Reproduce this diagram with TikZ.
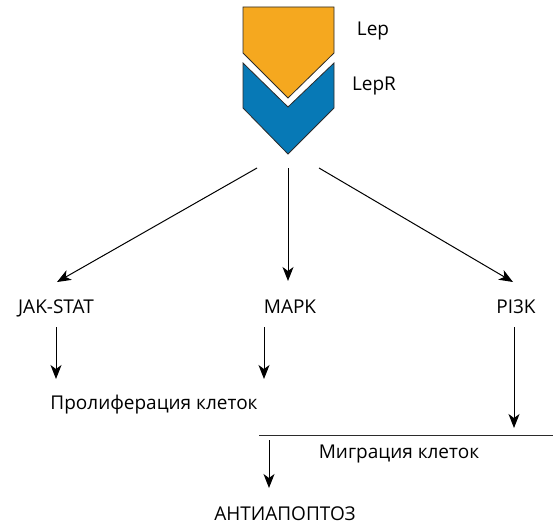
\documentclass[tikz,border=0pt]{standalone}
\usepackage{fontspec}
\setmainfont{Open Sans}
\usetikzlibrary{arrows.meta}
\definecolor{lepyel}{HTML}{F5A81F}
\definecolor{lepblue}{HTML}{0779B6}
\definecolor{edge}{HTML}{2B2B2B}
\tikzset{
  lbl/.style={inner sep=0pt, anchor=base, font=\fontsize{19}{21}\selectfont, text=black},
  arr/.style={draw=black, line width=1pt, -{Stealth[length=14pt,width=11pt,inset=4pt]}},
  shp/.style={draw=edge, line width=0.8pt, line join=miter}
}
\begin{document}
\begin{tikzpicture}[x=1pt,y=-1pt]
\useasboundingbox (0,0) rectangle (553,524);
% receptor
\path[shp, fill=lepyel] (243,7) -- (334,7) -- (334,53) -- (288,98) -- (243,53) -- cycle;
\path[shp, fill=lepblue] (243,63) -- (288,107) -- (334,63) -- (334,108) -- (288,154) -- (243,108) -- cycle;
\node[lbl] (lep) at (373,36) {Lep};
\node[lbl] (lepr) at (374,91) {LepR};
\coordinate (sL) at (257,168);
\coordinate (sM) at (288,168);
\coordinate (sR) at (319,168);
% pathways
\node[lbl] (jak) at (56,313) {JAK-STAT};
\node[lbl] (mapk) at (290,313) {MAPK};
\node[lbl] (pi3k) at (516,313) {PI3K};
\coordinate (eL) at (57,282);
\coordinate (eM) at (288,281);
\coordinate (eR) at (513,282);
\draw[arr] (sL) -- (eL);
\draw[arr] (sM) -- (eM);
\draw[arr] (sR) -- (eR);
% outcomes
\node[lbl] (prolif) at (154,409) {Пролиферация клеток};
\coordinate (j1) at (56,327);
\coordinate (j2) at (56,379);
\coordinate (m1) at (264,327);
\coordinate (m2) at (264,379);
\coordinate (p1) at (514,327);
\coordinate (p2) at (514,428);
\draw[arr] (j1) -- (j2);
\draw[arr] (m1) -- (m2);
\draw[arr] (p1) -- (p2);
\coordinate (hl) at (259,435);
\coordinate (hr) at (553,435);
\draw[line width=0.9pt, draw=edge] (hl) -- (hr);
\node[lbl] (migr) at (399,458) {Миграция клеток};
\coordinate (a1) at (269,440);
\coordinate (a2) at (269,488);
\draw[arr] (a1) -- (a2);
\node[lbl] (anti) at (285,520) {АНТИАПОПТОЗ};
\end{tikzpicture}
\end{document}
